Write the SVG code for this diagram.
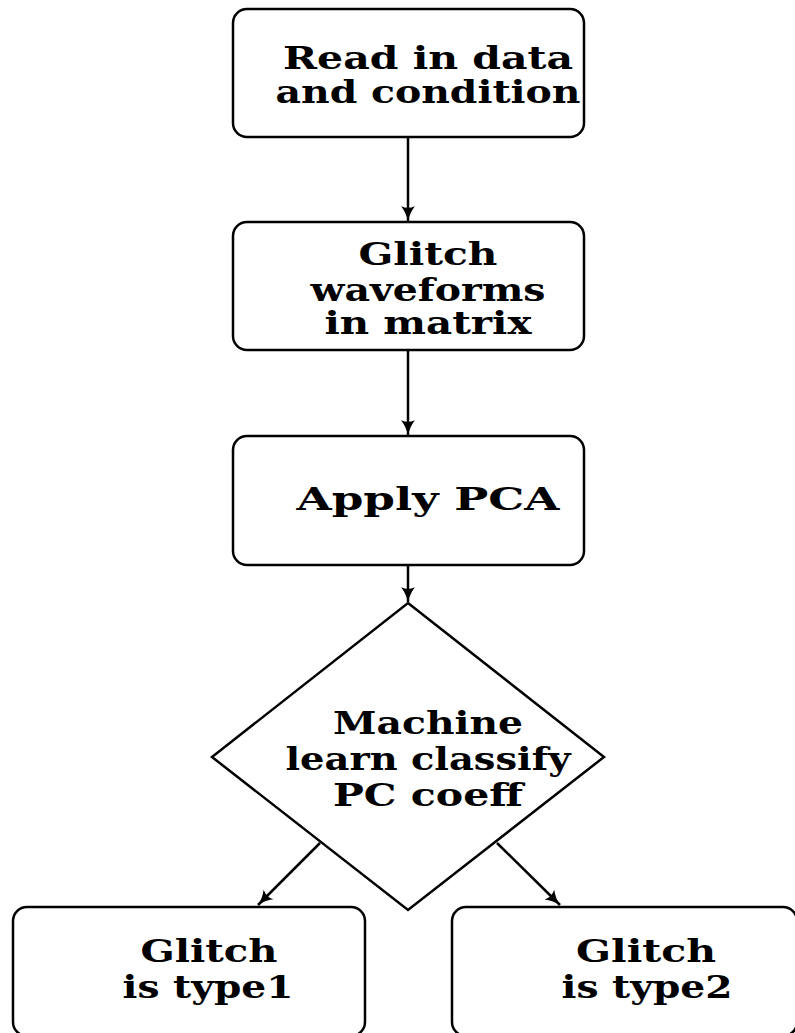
<svg xmlns="http://www.w3.org/2000/svg" width="795" height="1033" viewBox="0 0 795 1033">
<defs>
<style>
.n{fill:#fff;stroke:#000;stroke-width:2.5}
.t{font-family:"DejaVu Serif","Liberation Serif",serif;font-weight:bold;font-size:31px;fill:#000;text-anchor:middle}
.c{fill:none;stroke:#000;stroke-width:2.5}
</style>
<marker id="ah" viewBox="0 0 14 14" refX="13" refY="7" markerWidth="16" markerHeight="16" markerUnits="userSpaceOnUse" orient="auto">
<path d="M0,1 Q6,5.5 13,7 Q6,8.5 0,13 Q3,7 0,1 Z" fill="#000"/>
</marker>
</defs>
<rect width="795" height="1033" fill="#fff"/>
<g id="connectors">
<line class="c" x1="408" y1="137" x2="408" y2="221" marker-end="url(#ah)"/>
<line class="c" x1="408" y1="350" x2="408" y2="435" marker-end="url(#ah)"/>
<line class="c" x1="408" y1="565" x2="408" y2="602" marker-end="url(#ah)"/>
<line class="c" x1="320" y1="843" x2="258" y2="905" marker-end="url(#ah)"/>
<line class="c" x1="497" y1="843" x2="560" y2="905" marker-end="url(#ah)"/>
</g>
<g id="n1">
<rect class="n" x="233" y="9" width="351" height="128" rx="14"/>
<text class="t" x="428" y="69" textLength="290" lengthAdjust="spacingAndGlyphs">Read in data</text>
<text class="t" x="428" y="103" textLength="305" lengthAdjust="spacingAndGlyphs">and condition</text>
</g>
<g id="n2">
<rect class="n" x="233" y="222" width="351" height="128" rx="14"/>
<text class="t" x="428" y="265" textLength="139" lengthAdjust="spacingAndGlyphs">Glitch</text>
<text class="t" x="428" y="301" textLength="235" lengthAdjust="spacingAndGlyphs">waveforms</text>
<text class="t" x="428" y="334" textLength="207" lengthAdjust="spacingAndGlyphs">in matrix</text>
</g>
<g id="n3">
<rect class="n" x="233" y="436" width="351" height="129" rx="14"/>
<text class="t" x="428" y="510" textLength="263" lengthAdjust="spacingAndGlyphs">Apply PCA</text>
</g>
<g id="n4">
<polygon class="n" points="408,603 604,757 408,910 212,757"/>
<text class="t" x="428" y="734" textLength="190" lengthAdjust="spacingAndGlyphs">Machine</text>
<text class="t" x="428" y="770" textLength="285" lengthAdjust="spacingAndGlyphs">learn classify</text>
<text class="t" x="428" y="806" textLength="190" lengthAdjust="spacingAndGlyphs">PC coeff</text>
</g>
<g id="n5">
<rect class="n" x="13" y="907" width="352" height="129" rx="14"/>
<text class="t" x="209" y="962" textLength="137" lengthAdjust="spacingAndGlyphs">Glitch</text>
<text class="t" x="208" y="998" textLength="171" lengthAdjust="spacingAndGlyphs">is type1</text>
</g>
<g id="n6">
<rect class="n" x="452" y="907" width="345" height="129" rx="14"/>
<text class="t" x="646" y="962" textLength="140" lengthAdjust="spacingAndGlyphs">Glitch</text>
<text class="t" x="647" y="998" textLength="171" lengthAdjust="spacingAndGlyphs">is type2</text>
</g>
</svg>
